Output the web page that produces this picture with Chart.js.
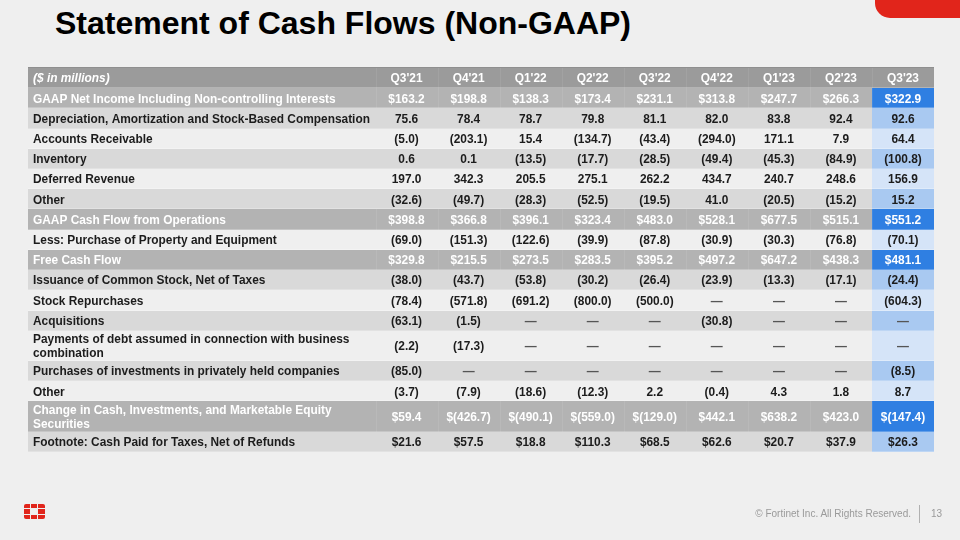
<!DOCTYPE html>
<html>
<head>
<meta charset="utf-8">
<script src="https://cdn.jsdelivr.net/npm/chart.js@4.4.0/dist/chart.umd.min.js"></script>
<style>
    html, body { margin: 0; padding: 0; background: #efefef; }
    #slide { position: relative; width: 960px; height: 540px; overflow: hidden; font-family: "Liberation Sans", Arial, sans-serif; }
    #title { position: absolute; left: 55px; top: 7px; font-size: 32px; line-height: 32px; font-weight: bold; color: #000; white-space: nowrap; }
    #tab { position: absolute; right: 0; top: 0; width: 85px; height: 18px; background: #e1251b; border-bottom-left-radius: 15px; }
    #chartBox { position: absolute; left: 0; top: 0; width: 960px; height: 540px; }
    #logo { position: absolute; left: 24px; top: 504px; width: 21px; height: 15px; }
    #logo div { position: absolute; background: #e1251b; width: 6px; height: 4px; }
    #copy { position: absolute; right: 49px; top: 508px; font-size: 10px; color: #9a9a9a; white-space: nowrap; }
    #sep { position: absolute; left: 919px; top: 505px; width: 1px; height: 18px; background: #b0b0b0; }
    #page { position: absolute; left: 931px; top: 508px; font-size: 10px; color: #9a9a9a; }
</style>
</head>
<body>
<div id="slide">
    <div id="title">Statement of Cash Flows (Non-GAAP)</div>
    <div id="tab"></div>
    <div id="chartBox"><canvas id="cashTable"></canvas></div>
    <div id="logo">
        <div style="left:0;top:0;border-top-left-radius:2px"></div>
        <div style="left:7px;top:0"></div>
        <div style="left:14px;top:0;width:7px;border-top-right-radius:2px"></div>
        <div style="left:0;top:5px;height:5px"></div>
        <div style="left:14px;top:5px;width:7px;height:5px"></div>
        <div style="left:0;top:11px;border-bottom-left-radius:2px"></div>
        <div style="left:7px;top:11px"></div>
        <div style="left:14px;top:11px;width:7px;border-bottom-right-radius:2px"></div>
    </div>
    <div id="copy">© Fortinet Inc. All Rights Reserved.</div>
    <div id="sep"></div>
    <div id="page">13</div>
</div>

<script>
// --- Table data ($ in millions, negatives shown in parentheses, null = dash) ---
const quarters = ["Q3'21", "Q4'21", "Q1'22", "Q2'22", "Q3'22", "Q4'22", "Q1'23", "Q2'23", "Q3'23"];

const rowLabels = [
    'GAAP Net Income Including Non-controlling Interests',
    'Depreciation, Amortization and Stock-Based Compensation',
    'Accounts Receivable',
    'Inventory',
    'Deferred Revenue',
    'Other',
    'GAAP Cash Flow from Operations',
    'Less: Purchase of Property and Equipment',
    'Free Cash Flow',
    'Issuance of Common Stock, Net of Taxes',
    'Stock Repurchases',
    'Acquisitions',
    'Payments of debt assumed in connection with business\ncombination',
    'Purchases of investments in privately held companies',
    'Other',
    'Change in Cash, Investments, and Marketable Equity\nSecurities',
    'Footnote: Cash Paid for Taxes, Net of Refunds'
];

const netIncome = [163.2, 198.8, 138.3, 173.4, 231.1, 313.8, 247.7, 266.3, 322.9];
const depreciation = [75.6, 78.4, 78.7, 79.8, 81.1, 82.0, 83.8, 92.4, 92.6];
const receivables = [-5.0, -203.1, 15.4, -134.7, -43.4, -294.0, 171.1, 7.9, 64.4];
const inventory = [0.6, 0.1, -13.5, -17.7, -28.5, -49.4, -45.3, -84.9, -100.8];
const deferredRevenue = [197.0, 342.3, 205.5, 275.1, 262.2, 434.7, 240.7, 248.6, 156.9];
const otherOperating = [-32.6, -49.7, -28.3, -52.5, -19.5, 41.0, -20.5, -15.2, 15.2];
const cashFromOps = [398.8, 366.8, 396.1, 323.4, 483.0, 528.1, 677.5, 515.1, 551.2];
const capex = [-69.0, -151.3, -122.6, -39.9, -87.8, -30.9, -30.3, -76.8, -70.1];
const freeCashFlow = [329.8, 215.5, 273.5, 283.5, 395.2, 497.2, 647.2, 438.3, 481.1];
const stockIssuance = [-38.0, -43.7, -53.8, -30.2, -26.4, -23.9, -13.3, -17.1, -24.4];
const repurchases = [-78.4, -571.8, -691.2, -800.0, -500.0, null, null, null, -604.3];
const acquisitions = [-63.1, -1.5, null, null, null, -30.8, null, null, null];
const debtPayments = [-2.2, -17.3, null, null, null, null, null, null, null];
const privateInvestments = [-85.0, null, null, null, null, null, null, null, -8.5];
const otherFinancing = [-3.7, -7.9, -18.6, -12.3, 2.2, -0.4, 4.3, 1.8, 8.7];
const changeInCash = [59.4, -426.7, -490.1, -559.0, -129.0, 442.1, 638.2, 423.0, -147.4];
const taxesPaid = [21.6, 57.5, 18.8, 110.3, 68.5, 62.6, 20.7, 37.9, 26.3];

const rowValues = [netIncome, depreciation, receivables, inventory, deferredRevenue, otherOperating,
    cashFromOps, capex, freeCashFlow, stockIssuance, repurchases, acquisitions, debtPayments,
    privateInvestments, otherFinancing, changeInCash, taxesPaid];

// rows printed with a $ sign
const dollarRows = [0, 6, 8, 15, 16];

// --- Layout / style ---
const labelSpan = 5.6;          // width of the label column, in quarter-column units
const totalRows = [0, 6, 8, 15];
const bandRows = [1, 3, 5, 9, 11, 13, 16];
const fontFamily = '"Liberation Sans", Arial, sans-serif';

function formatValue(v, dollar) {
    if (v === null) return '\u2014';
    const s = Math.abs(v).toFixed(1);
    const body = v < 0 ? '(' + s + ')' : s;
    return (dollar ? '$' : '') + body;
}

// row edges on the y scale: header + one unit per text line (1.5 for two lines)
const rowEdges = [0, 1];
rowLabels.forEach(function (label) {
    const lines = label.split('\n').length;
    rowEdges.push(rowEdges[rowEdges.length - 1] + 1 + 0.5 * (lines - 1));
});
const colEdges = [0, labelSpan];
quarters.forEach(function () { colEdges.push(colEdges[colEdges.length - 1] + 1); });

// one dataset per row; each point sits in the middle of its cell
const headerRow = ['($ in millions)'].concat(quarters);
const allRows = [headerRow].concat(rowLabels.map(function (label, r) {
    return [label].concat(rowValues[r].map(function (v) { return formatValue(v, dollarRows.includes(r)); }));
}));

const datasets = allRows.map(function (cells, r) {
    return {
        label: cells[0],
        data: cells.map(function (text, c) {
            return { x: (colEdges[c] + colEdges[c + 1]) / 2, y: (rowEdges[r] + rowEdges[r + 1]) / 2, text: text };
        }),
        pointRadius: 0
    };
});

function cellFill(r, c) {
    if (r === 0) return '#9b9b9b';
    const i = r - 1;
    const last = c === quarters.length;
    if (totalRows.includes(i)) return last ? '#2f7fe2' : '#b3b3b3';
    if (bandRows.includes(i)) return last ? '#a9c9f1' : '#d9d9d9';
    return last ? '#d5e4f8' : '#efefef';
}

const tablePlugin = {
    id: 'cashTable',
    afterDatasetsDraw(chart) {
        const ctx = chart.ctx;
        const x = chart.scales.x, y = chart.scales.y;
        const tableLeft = Math.round(x.getPixelForValue(0));
        const tableRight = Math.round(x.getPixelForValue(colEdges[colEdges.length - 1]));
        ctx.save();
        chart.data.datasets.forEach(function (ds, r) {
            const meta = chart.getDatasetMeta(r);
            const top = Math.round(y.getPixelForValue(rowEdges[r]));
            const bottom = Math.round(y.getPixelForValue(rowEdges[r + 1]));
            const light = r === 0 || totalRows.includes(r - 1);
            ds.data.forEach(function (cell, c) {
                const left = Math.round(x.getPixelForValue(colEdges[c]));
                const right = Math.round(x.getPixelForValue(colEdges[c + 1]));
                ctx.fillStyle = cellFill(r, c);
                ctx.fillRect(left, top, right - left, bottom - top);
                if (light && c > 0) {
                    ctx.fillStyle = 'rgba(255,255,255,0.08)';
                    ctx.fillRect(left, top, 1, bottom - top);
                }

                const pt = meta.data[c];
                const italic = r === 0 && c === 0 ? 'italic ' : '';
                ctx.font = italic + 'bold 11.9px ' + fontFamily;
                ctx.textBaseline = 'middle';
                ctx.fillStyle = light ? '#ffffff' : (cell.text === '\u2014' ? '#555555' : '#1c1c1c');
                if (c === 0) {
                    ctx.textAlign = 'left';
                    const lines = cell.text.split('\n');
                    const lh = 14;
                    lines.forEach(function (line, k) {
                        ctx.fillText(line, left + 5, pt.y + 1 + (k - (lines.length - 1) / 2) * lh);
                    });
                } else {
                    ctx.textAlign = 'center';
                    ctx.fillText(cell.text, pt.x, pt.y + 1);
                }
            });
            // faint row divider
            ctx.fillStyle = 'rgba(255,255,255,0.25)';
            ctx.fillRect(tableLeft, bottom - 1, tableRight - tableLeft, 1);
        });
        // top rule of the table
        ctx.fillStyle = '#8f8f8f';
        ctx.fillRect(tableLeft, Math.round(y.getPixelForValue(0)) - 1, tableRight - tableLeft, 1);
        ctx.restore();
    }
};

document.addEventListener('DOMContentLoaded', function () {
    const tableCtx = document.getElementById('cashTable').getContext('2d');
    new Chart(tableCtx, {
        type: 'scatter',
        data: { datasets: datasets },
        options: {
            responsive: true,
            maintainAspectRatio: false,
            animation: false,
            layout: { padding: { left: 28, right: 26, top: 68, bottom: 88 } },
            scales: {
                x: { type: 'linear', min: 0, max: colEdges[colEdges.length - 1], display: false },
                y: { type: 'linear', min: 0, max: rowEdges[rowEdges.length - 1], reverse: true, display: false }
            },
            plugins: {
                legend: { display: false },
                tooltip: { enabled: false }
            }
        },
        plugins: [tablePlugin]
    });
});
</script>
</body>
</html>
